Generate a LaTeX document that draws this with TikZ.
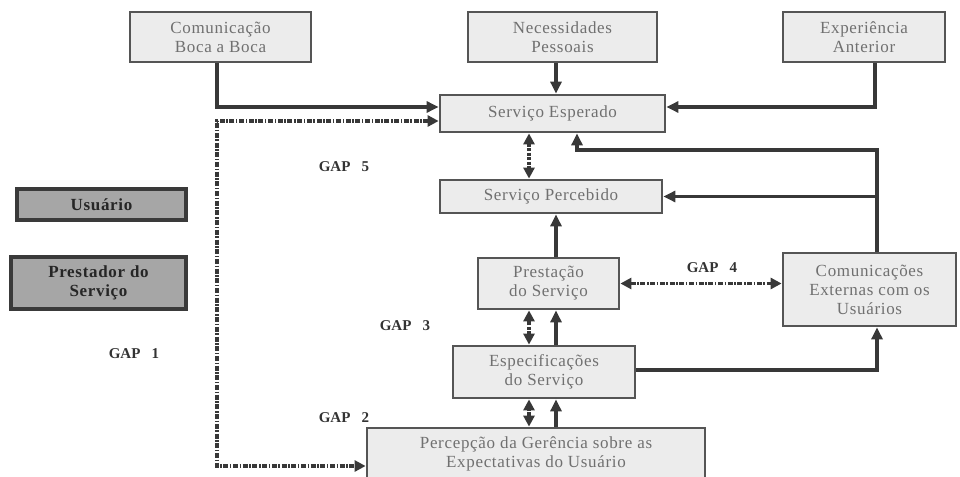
\documentclass[tikz,border=0pt]{standalone}
\usepackage{fontspec}
\setmainfont{Liberation Serif}
\newfontfamily\boxfont[LetterSpace=4]{Liberation Serif}
\usetikzlibrary{arrows.meta}
\definecolor{boxfill}{HTML}{ECECEC}
\definecolor{boxline}{HTML}{555555}
\definecolor{boxtext}{HTML}{707070}
\definecolor{darkfill}{HTML}{A6A6A6}
\definecolor{darkline}{HTML}{3A3A3A}
\definecolor{arrcol}{HTML}{383838}
\tikzset{
  box/.style={draw=boxline, line width=2.8pt, fill=boxfill, text=boxtext, align=center, inner sep=0pt,
    font=\boxfont\fontsize{17}{19}\selectfont},
  rolebox/.style={draw=darkline, line width=3.2pt, fill=darkfill, text=black!85, align=center, inner sep=0pt,
    font=\boxfont\fontsize{17}{19}\selectfont\bfseries},
  gaplabel/.style={font=\fontsize{15}{17}\selectfont\bfseries, text=black!80, inner sep=0pt},
  arr/.style={draw=arrcol, line width=3.3pt, -{Triangle[length=12pt,width=11pt]}},
  dbl/.style={draw=arrcol, line width=3.3pt, {Triangle[length=11pt,width=11pt]}-{Triangle[length=11pt,width=11pt]}},
  dshort/.style={dbl, dash pattern=on 3pt off 1.5pt},
  ddot/.style={dbl, line width=3.5pt, dash pattern=on 5pt off 1.6pt on 1.5pt off 1.6pt},
}
\begin{document}
\begin{tikzpicture}[x=1pt,y=-1pt]
\useasboundingbox (0,0) rectangle (960,476);
% boxes
\node[box, minimum width=181pt, minimum height=50pt] (boca) at (220.5,37) {Comunicação\\Boca a Boca};
\node[box, minimum width=189pt, minimum height=50pt] (nec) at (562.5,37) {Necessidades\\Pessoais};
\node[box, minimum width=162pt, minimum height=50pt] (exp) at (864,37) {Experiência\\Anterior};
\node[box, minimum width=225pt, minimum height=37pt] (esp) at (552.5,113.5) {Serviço Esperado};
\node[box, minimum width=222pt, minimum height=33pt] (perc) at (551,196.5) {Serviço Percebido};
\node[box, minimum width=141pt, minimum height=51pt] (prest) at (548.5,283.5) {Prestação\\do Serviço};
\node[box, minimum width=182pt, minimum height=52pt] (espec) at (544,372) {Especificações\\do Serviço};
\node[box, minimum width=338pt, minimum height=52pt] (percep) at (536,454) {Percepção da Gerência sobre as\\Expectativas do Usuário};
\node[box, minimum width=173pt, minimum height=73pt] (com) at (869.5,289.5) {Comunicações\\Externas com os\\Usuários};
\node[rolebox, minimum width=169pt, minimum height=31pt] (usu) at (101.5,204.5) {Usuário};
\node[rolebox, minimum width=175pt, minimum height=52pt] (prestador) at (98.5,283) {Prestador do\\Serviço};
% gap labels
\node[gaplabel] (g5) at (344,167) {GAP~~~5};
\node[gaplabel] (g1) at (134,354) {GAP~~~1};
\node[gaplabel] (g2) at (344,418) {GAP~~~2};
\node[gaplabel] (g3) at (405,326) {GAP~~~3};
\node[gaplabel] (g4) at (712,268) {GAP~~~4};
% helper coordinates
\coordinate (colA) at (217,0);
\coordinate (colN) at (556,0);
\coordinate (colD) at (529,0);
\coordinate (colX) at (875,0);
\coordinate (colR) at (877,0);
\coordinate (colE) at (577,150);
\coordinate (cTop) at (217,121);
\coordinate (cBot) at (217,466);
% connectors
\draw[arr] (colA |- boca.south) |- ([yshift=6.5pt]esp.west);
\draw[ddot] ([yshift=-7.5pt]esp.west) -- (cTop) -- (cBot) -- (cBot -| percep.west);
\draw[arr] (colN |- nec.south) -- (colN |- esp.north);
\draw[arr] (colX |- exp.south) |- ([yshift=6.5pt]esp.east);
\draw[arr] (colR |- com.north) |- (colE) -- (colE |- esp.south);
\draw[arr] (colR |- perc.east) -- (perc.east);
\draw[dshort] (colD |- esp.south) -- (colD |- perc.north);
\draw[arr] (colN |- prest.north) -- (colN |- perc.south);
\draw[ddot] (prest.east) -- (prest.east -| com.west);
\draw[dshort] (colD |- espec.north) -- (colD |- prest.south);
\draw[arr] (colN |- espec.north) -- (colN |- prest.south);
\draw[arr] ([yshift=2pt]espec.east) -| (colR |- com.south);
\draw[dbl, dash pattern=on 4pt off 1pt] (colD |- percep.north) -- (colD |- espec.south);
\draw[arr] (colN |- percep.north) -- (colN |- espec.south);
\end{tikzpicture}
\end{document}
